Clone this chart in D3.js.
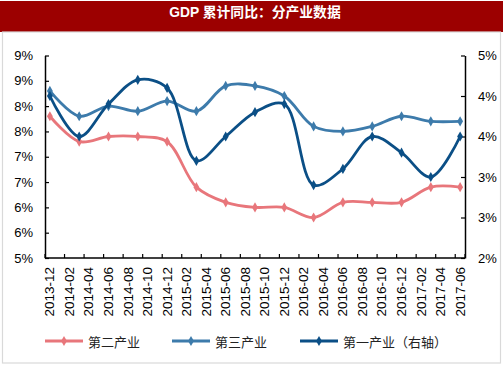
<!DOCTYPE html>
<html><head><meta charset="utf-8">
<script src="https://cdn.jsdelivr.net/npm/d3@7"></script>
<style>
html,body{margin:0;padding:0;background:#fff;}
svg{display:block;}
</style></head>
<body><svg id="c" width="503" height="378"></svg>
<script>
const title = "GDP 累计同比：分产业数据";
const quarters = ["2013-12","2014-03","2014-06","2014-09","2014-12","2015-03","2015-06","2015-09","2015-12","2016-03","2016-06","2016-09","2016-12","2017-03","2017-06"];
const secondary = [7.8,7.3,7.4,7.4,7.3,6.4,6.1,6.0,6.0,5.8,6.1,6.1,6.1,6.4,6.4];
const tertiary  = [8.3,7.8,8.0,7.9,8.1,7.9,8.4,8.4,8.2,7.6,7.5,7.6,7.8,7.7,7.7];
const primary   = [4.0,3.5,3.9,4.2,4.1,3.2,3.5,3.8,3.9,2.9,3.1,3.5,3.3,3.0,3.5];
const seriesNames = ["第二产业","第三产业","第一产业（右轴）"];
const xTickLabels = ["2013-12","2014-02","2014-04","2014-06","2014-08","2014-10","2014-12","2015-02","2015-04","2015-06","2015-08","2015-10","2015-12","2016-02","2016-04","2016-06","2016-08","2016-10","2016-12","2017-02","2017-04","2017-06"];
const leftTicks = [5,5.5,6,6.5,7,7.5,8,8.5,9];
const leftTickLabels = ["5%","6%","6%","7%","7%","8%","8%","9%","9%"];
const rightTicks = [2,2.5,3,3.5,4,4.5];
const rightTickLabels = ["2%","3%","3%","4%","4%","5%"];

const colors = ["#E8767B","#3D7BAB","#0B4F86"];
const font = "'Liberation Sans', Arial, 'Noto Sans CJK SC', sans-serif";
const cjk = "'Liberation Sans', 'Noto Sans CJK SC', sans-serif";

const svg = d3.select("#c");
// title bar
svg.append("rect").attr("x",0).attr("y",1).attr("width",503).attr("height",31).attr("fill","#9C0000");
svg.append("text").attr("x",255).attr("y",17).attr("text-anchor","middle")
  .attr("fill","#fff").attr("font-family",cjk).attr("font-size",13.8).attr("font-weight","bold").text(title);
// frame
svg.append("rect").attr("x",2.5).attr("y",32).attr("width",498).attr("height",331)
  .attr("fill","none").attr("stroke","#d9d9d9").attr("stroke-width",1.2);

const L = 45, R = 465, T = 55.5, B = 258;
const fmt = d3.timeFormat("%Y-%m"), parse = d3.timeParse("%Y-%m");
const months = d3.timeMonth.range(parse("2013-12"), parse("2017-07")).map(fmt);
const x = d3.scaleBand().domain(months).range([L,R]);
const xc = m => x(m) + x.bandwidth()/2;
const yL = d3.scaleLinear().domain([5,9]).range([B,T]);
const yR = d3.scaleLinear().domain([2,4.5]).range([B,T]);

// left axis
const gL = svg.append("g").attr("transform",`translate(${L},0)`)
  .call(d3.axisLeft(yL).tickValues(leftTicks).tickFormat((d,i)=>leftTickLabels[i]).tickSizeInner(-4).tickSizeOuter(0).tickPadding(12));
// right axis
const gR = svg.append("g").attr("transform",`translate(${R},0)`)
  .call(d3.axisRight(yR).tickValues(rightTicks).tickFormat((d,i)=>rightTickLabels[i]).tickSizeInner(-4).tickSizeOuter(0).tickPadding(13));
[gL,gR].forEach(g=>{
  g.select(".domain").attr("stroke","#000").attr("stroke-width",1.5);
  g.selectAll(".tick line").attr("stroke","#000").attr("stroke-width",1.2);
  g.selectAll(".tick text").attr("font-family",font).attr("font-size",13).attr("fill","#000");
});
// bottom axis
const gB = svg.append("g");
gB.append("line").attr("x1",L).attr("x2",R).attr("y1",B).attr("y2",B).attr("stroke","#000").attr("stroke-width",1.5);
gB.selectAll("line.t").data(xTickLabels.concat([null])).join("line").attr("class","t")
  .attr("x1",d=>d?x(d):R).attr("x2",d=>d?x(d):R).attr("y1",B).attr("y2",B-4)
  .attr("stroke","#000").attr("stroke-width",1.2);
gB.selectAll("text").data(xTickLabels).join("text")
  .attr("transform",d=>`translate(${xc(d)},267) rotate(-90)`)
  .attr("text-anchor","end").attr("dominant-baseline","central")
  .attr("font-family",font).attr("font-size",13.5).attr("fill","#000").text(d=>d);

// series
const series = [
  {vals:secondary, y:yL, c:colors[0]},
  {vals:tertiary, y:yL, c:colors[1]},
  {vals:primary, y:yR, c:colors[2]}
];
const diamond = d3.symbol().type(d3.symbolDiamond).size(30);
series.forEach(s=>{
  const pts = quarters.map((q,i)=>[xc(q), s.y(s.vals[i])]);
  svg.append("path").attr("d",d3.line().curve(d3.curveCatmullRom)(pts))
    .attr("fill","none").attr("stroke",s.c).attr("stroke-width",2.8);
  svg.append("g").selectAll("path").data(pts).join("path")
    .attr("transform",p=>`translate(${p[0]},${p[1]})`).attr("d",diamond).attr("fill",s.c);
});

// legend
const legX = [45,172,300];
seriesNames.forEach((n,i)=>{
  const g = svg.append("g").attr("transform",`translate(${legX[i]},341)`);
  g.append("line").attr("x1",0).attr("x2",38).attr("stroke",colors[i]).attr("stroke-width",2.8);
  g.append("path").attr("transform","translate(19,0)").attr("d",diamond).attr("fill",colors[i]);
  g.append("text").attr("x",43).attr("y",1).attr("dominant-baseline","central")
    .attr("font-family",cjk).attr("font-size",13).attr("fill","#222").text(n);
});
</script></body></html>
